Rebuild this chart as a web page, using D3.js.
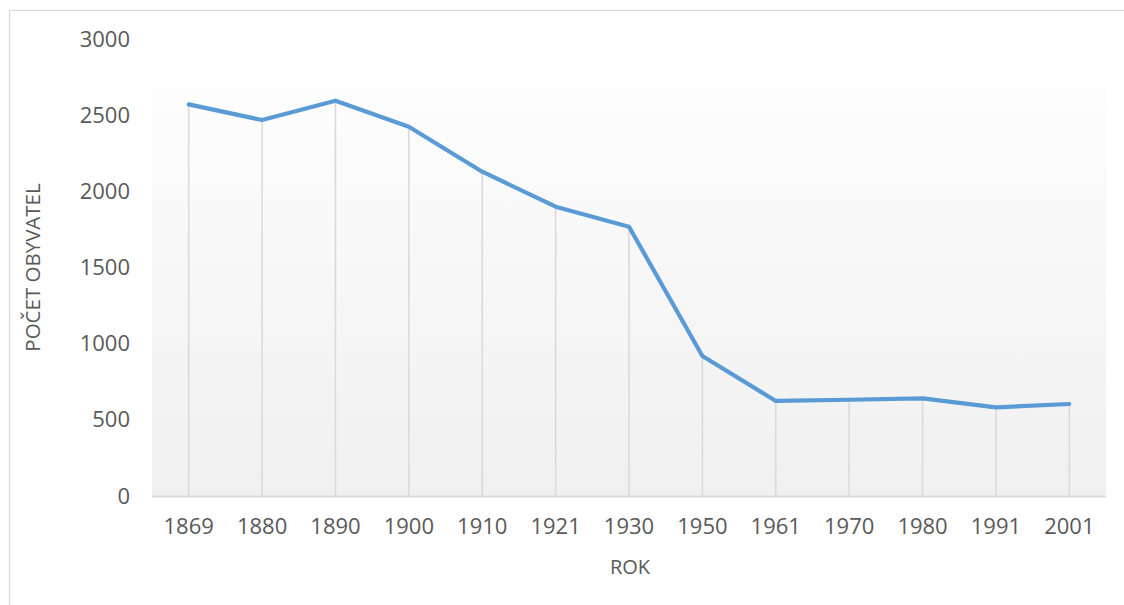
<!DOCTYPE html>
<html><head><meta charset="utf-8">
<script src="https://cdn.jsdelivr.net/npm/d3@7"></script>
<style>body{margin:0;background:#fff}svg{display:block}</style>
</head><body>
<svg id="c" width="1124" height="605"></svg>
<script>
const years = ["1869","1880","1890","1900","1910","1921","1930","1950","1961","1970","1980","1991","2001"];
const population = [2571, 2468, 2595, 2424, 2129, 1899, 1768, 919, 624, 632, 641, 582, 604];
const yTicks = [0, 500, 1000, 1500, 2000, 2500, 3000];
const xTitle = "ROK";
const yTitle = "POČET OBYVATEL";

const svg = d3.select("#c");
const font = "'Open Sans', sans-serif";
const txt = "#595959";
const L = 152, R = 1106, T = 39, B = 496;

// outer border (top + left visible)
svg.append("rect").attr("x", 9.5).attr("y", 10.5).attr("width", 1130).attr("height", 620)
  .attr("fill", "#fff").attr("stroke", "#d9d9d9").attr("stroke-width", 1.2);

const defs = svg.append("defs");
const g = defs.append("linearGradient").attr("id", "bg").attr("x1", 0).attr("y1", 0).attr("x2", 0).attr("y2", 1);
g.append("stop").attr("offset", "0%").attr("stop-color", "#ffffff");
g.append("stop").attr("offset", "100%").attr("stop-color", "#f0f0f0");

const x = d3.scaleBand().domain(years).range([L, R]);
const y = d3.scaleLinear().domain([0, 3000]).range([B, T]);

svg.append("rect").attr("x", L).attr("y", y(3000)).attr("width", R - L).attr("height", B - y(3000))
  .attr("fill", "url(#bg)");

const cx = d => x(d) + x.bandwidth() / 2;

// drop lines
svg.append("g").selectAll("line").data(years).join("line")
  .attr("x1", (d) => cx(d)).attr("x2", (d) => cx(d))
  .attr("y1", (d, i) => y(population[i])).attr("y2", B)
  .attr("stroke", "#d9d9d9").attr("stroke-width", 1.5);

// x axis line
svg.append("line").attr("x1", L).attr("x2", R).attr("y1", B + 0.5).attr("y2", B + 0.5)
  .attr("stroke", "#d9d9d9").attr("stroke-width", 2);

// y tick labels
const ya = svg.append("g").attr("transform", `translate(${L},0)`)
  .call(d3.axisLeft(y).tickValues(yTicks).tickFormat(d3.format("d")).tickSize(0).tickPadding(22));
ya.select(".domain").remove();
ya.selectAll("text").attr("font-family", font).attr("font-size", 22).attr("fill", txt);

// x tick labels
const xa = svg.append("g").attr("transform", `translate(0,${B})`)
  .call(d3.axisBottom(x).tickSize(0).tickPadding(22));
xa.select(".domain").remove();
xa.selectAll("text").attr("font-family", font).attr("font-size", 22).attr("fill", txt);

// line
svg.append("path").datum(population)
  .attr("d", d3.line().x((d, i) => cx(years[i])).y(d => y(d)))
  .attr("fill", "none").attr("stroke", "#5b9bd5").attr("stroke-width", 4.2)
  .attr("stroke-linejoin", "round").attr("stroke-linecap", "round");

// titles
svg.append("text").attr("x", (L + R) / 2 + 1).attr("y", 567).attr("dy", "0.35em")
  .attr("text-anchor", "middle").attr("font-family", font).attr("font-size", 20).attr("fill", txt)
  .text(xTitle);
svg.append("text").attr("transform", `translate(33,${(T + B) / 2}) rotate(-90)`).attr("dy", "0.35em")
  .attr("text-anchor", "middle").attr("font-family", font).attr("font-size", 20.5).attr("fill", txt)
  .text(yTitle);
</script>
</body></html>
